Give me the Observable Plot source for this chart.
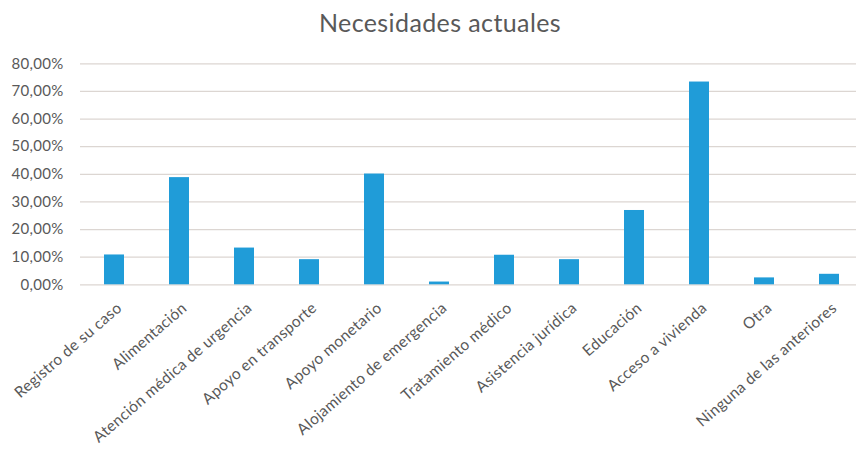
<!DOCTYPE html>
<html>
<head>
<meta charset="utf-8">
<script src="https://cdn.jsdelivr.net/npm/d3@7"></script>
<script src="https://cdn.jsdelivr.net/npm/@observablehq/plot@0.6"></script>
<style>
  html, body { margin: 0; padding: 0; background: #fff; }
  #wrap { position: relative; width: 856px; height: 453px; overflow: hidden; }
  #title { position: absolute; left: 0; top: 9px; width: 880px; text-align: center;
           font-family: Lato, sans-serif; font-size: 25px; letter-spacing: 0.4px; line-height: 26px; color: #595959; }
  #chart { position: absolute; left: 0; top: 50px; }
  #chart text { letter-spacing: 0.3px; }
</style>
</head>
<body>
<div id="wrap">
  <div id="title">Necesidades actuales</div>
  <div id="chart"></div>
</div>
<script>
const categories = [
  "Registro de su caso", "Alimentación", "Atención médica de urgencia",
  "Apoyo en transporte", "Apoyo monetario", "Alojamiento de emergencia",
  "Tratamiento médico", "Asistencia jurídica", "Educación",
  "Acceso a vivienda", "Otra", "Ninguna de las anteriores"
];
const values = [10.8, 38.8, 13.3, 9.1, 40.1, 1.0, 10.7, 9.1, 26.9, 73.4, 2.5, 3.8];
const yTicks = [0, 10, 20, 30, 40, 50, 60, 70, 80];

const data = categories.map((c, i) => ({category: c, value: values[i]}));
const fmt = d => d.toFixed(2).replace(".", ",") + "%";

const plot = Plot.plot({
  width: 856,
  height: 403,
  marginLeft: 80,
  marginRight: 0,
  marginTop: 13.3,
  marginBottom: 168.7,
  style: {fontFamily: "Lato, sans-serif", color: "#595959", background: "transparent"},
  x: {type: "band", domain: categories, range: [80, 862.6], paddingInner: 0.693, paddingOuter: 0.348, axis: null},
  y: {domain: [0, 80], axis: null},
  marks: [
    Plot.ruleY(yTicks, {stroke: "#dcd6d2", strokeWidth: 1.2}),
    Plot.barY(data, {x: "category", y: "value", fill: "#209cd8"}),
    Plot.axisY(yTicks, {tickSize: 0, tickPadding: 17, tickFormat: fmt, fontSize: 15, fill: "#595959", label: null}),
    Plot.text(categories, {x: d => d, y: () => 0, rotate: -41, textAnchor: "end", dx: 5, dy: 21, fontSize: 15.5, fill: "#595959"})
  ]
});
document.getElementById("chart").appendChild(plot);
</script>
</body>
</html>
